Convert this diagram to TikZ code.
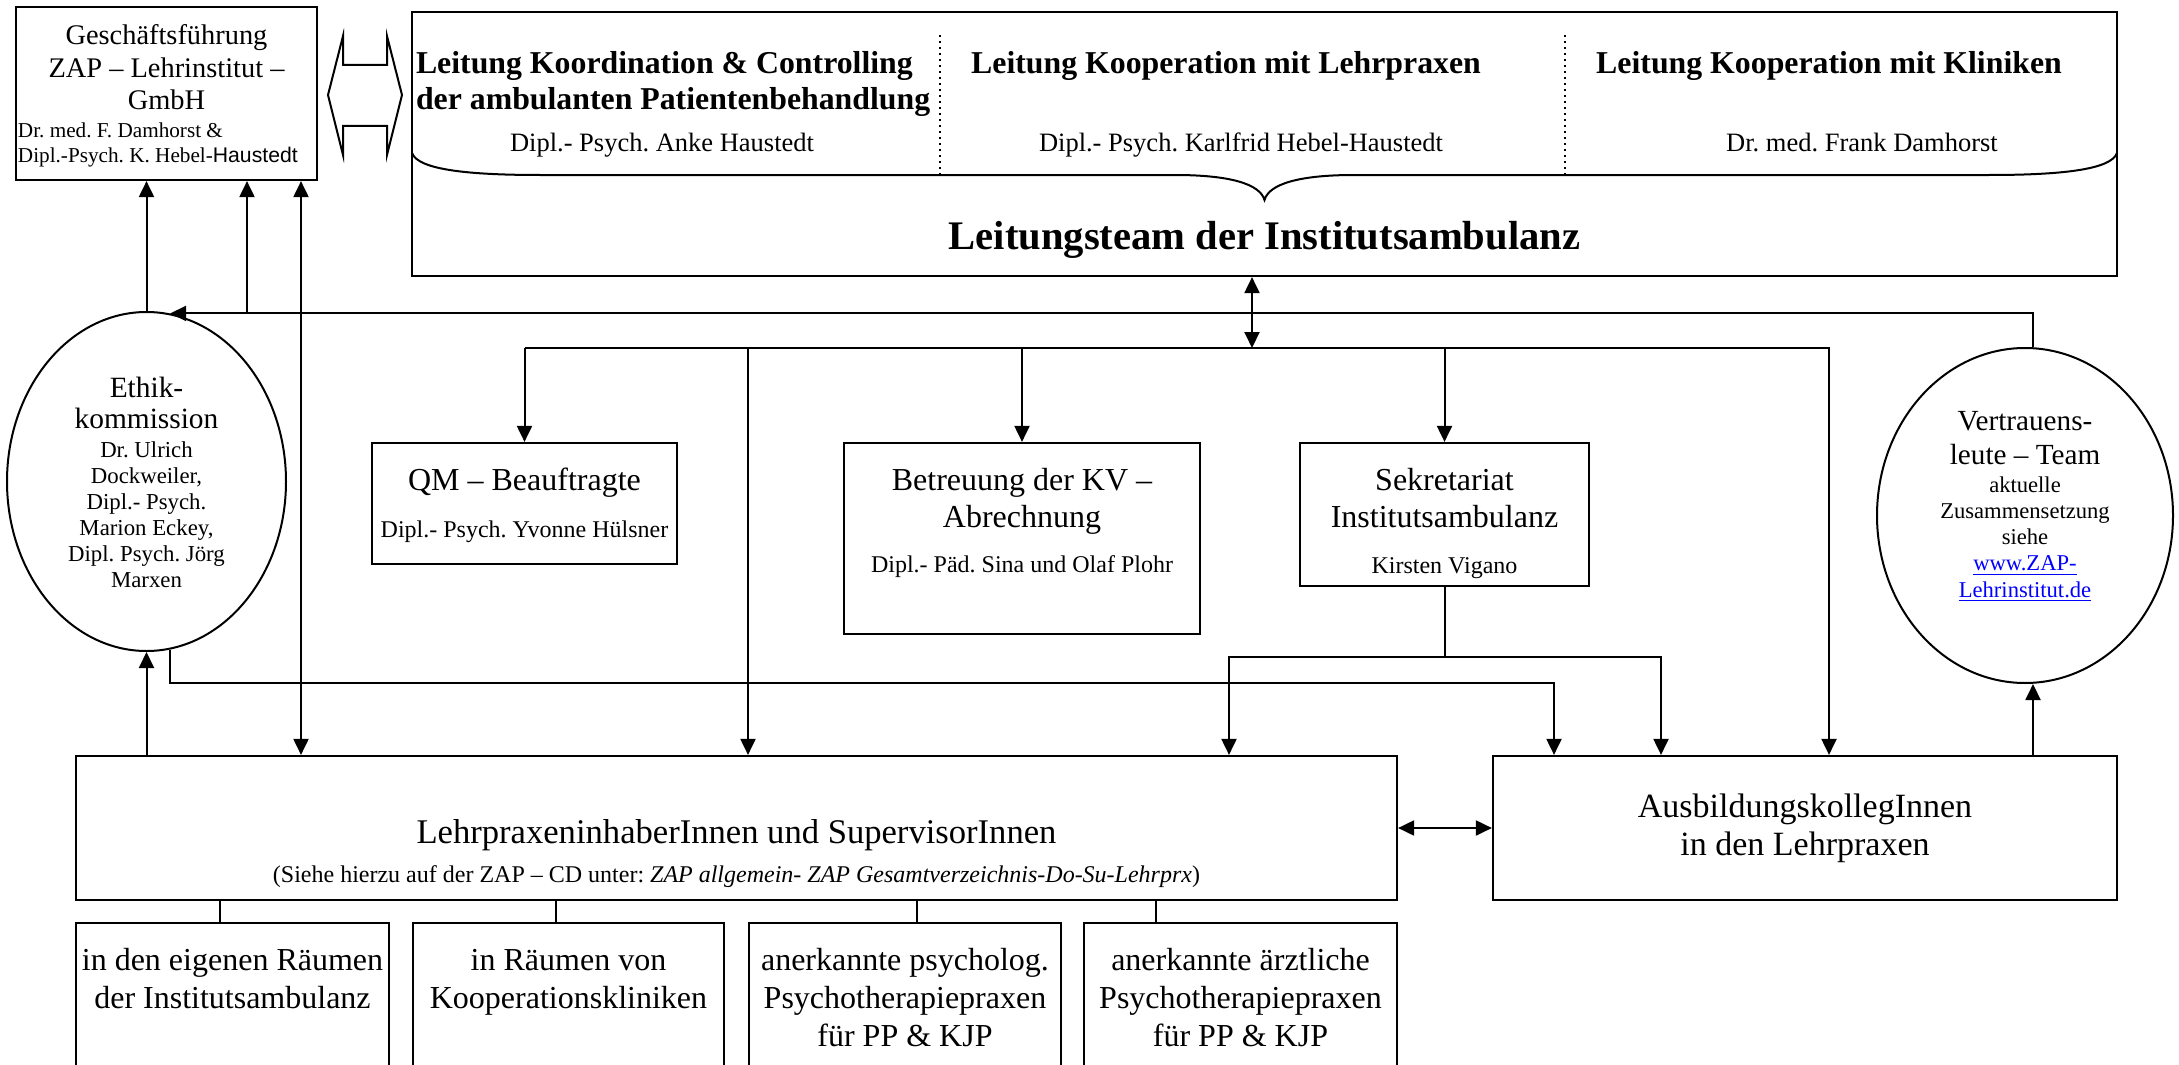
\documentclass[tikz,border=0pt]{standalone}
\usepackage{fontspec}
\setmainfont{Liberation Serif}
\newfontfamily\arialfont{Liberation Sans}
\usetikzlibrary{arrows.meta,shapes.geometric,positioning,calc}
\frenchspacing

\tikzset{every picture/.style={line width=1pt}}
\tikzset{
  unitbox/.style={draw, line width=1.1pt, rectangle, inner sep=0pt},
  bubble/.style={draw, line width=1pt, ellipse, inner sep=0pt},
  orgtext/.style={inner sep=0pt, align=center, anchor=base},
  conn/.style={line width=1pt, -{Triangle[length=8pt,width=7.5pt]}},
  twoway/.style={line width=1pt, {Triangle[length=8pt,width=7.5pt]}-{Triangle[length=8pt,width=7.5pt]}},
}
\newcommand{\orgsize}[2]{\fontsize{#1}{#2}\selectfont}

\begin{document}
\begin{tikzpicture}[x=0.5pt,y=0.5pt,yscale=-1,xscale=1]
\useasboundingbox (0,0) rectangle (2179,1065);

%Shape: Rectangle [Geschaeftsfuehrung]
\node[unitbox, minimum width=150.5pt, minimum height=86.5pt] (gf) at (166.5,93.5) {};
% Text Node (base = last line)
\node[orgtext, font=\orgsize{14.2}{16.25}] (gftitle) at (166.5,110) {Geschäftsführung\\ZAP – Lehrinstitut –\\GmbH};
% Text Node
\node[orgtext, anchor=base west, align=left, font=\orgsize{10.6}{12.4}] (gfnames) at (17,162.5) {Dr. med. F. Damhorst \&\\Dipl.-Psych. K. Hebel-{\arialfont Haustedt}};

%Shape: Left Right Arrow
\draw (328,95) -- (343,36) -- (343,65) -- (387,65) -- (387,36) -- (402,95) -- (387,155) -- (387,126) -- (343,126) -- (343,155) -- cycle ;

%Shape: Rectangle [Leitungsteam]
\node[unitbox, minimum width=852.5pt, minimum height=132pt] (lt) at (1264.5,144) {};
%Straight Lines
\draw [dotted] (940,35) -- (940,178) ;
%Straight Lines
\draw [dotted] (1565,35) -- (1565,178) ;
%Curve Lines [brace]
\draw (412,153) .. controls (418,170) and (470,175) .. (540,175) -- (1175,175) .. controls (1230,175) and (1260,184) .. (1264.5,200) .. controls (1269,184) and (1299,175) .. (1354,175) -- (1989,175) .. controls (2059,175) and (2111,170) .. (2117,153) ;

% Text Node
\node[orgtext, anchor=base west, align=left, font=\orgsize{15.9}{18}\bfseries] (lead1) at (415,110) {Leitung Koordination \& Controlling\\der ambulanten Patientenbehandlung};
% Text Node
\node[orgtext, font=\orgsize{13.25}{16}] (lead1name) at (662,152) {Dipl.- Psych. Anke Haustedt};
% Text Node
\node[orgtext, font=\orgsize{15.9}{18}\bfseries] (lead2) at (1226,74) {Leitung Kooperation mit Lehrpraxen};
% Text Node
\node[orgtext, font=\orgsize{13.25}{16}] (lead2name) at (1241,152) {Dipl.- Psych. Karlfrid Hebel-Haustedt};
% Text Node
\node[orgtext, font=\orgsize{15.9}{18}\bfseries] (lead3) at (1829,74) {Leitung Kooperation mit Kliniken};
% Text Node
\node[orgtext, font=\orgsize{13.25}{16}] (lead3name) at (1862,152) {Dr. med. Frank Damhorst};
% Text Node
\node[orgtext, font=\orgsize{20.3}{24}\bfseries] (ltitle) at (1264.5,249) {Leitungsteam der Institutsambulanz};

%Shape: Ellipse [Ethikkommission]
\node[bubble, minimum width=139.5pt, minimum height=169.5pt] (ethik) at (146.5,481.5) {};
% Text Node
\node[orgtext, font=\orgsize{14.7}{15.5}] (ethiktitle) at (146.5,428) {Ethik-\\kommission};
% Text Node
\node[orgtext, font=\orgsize{11.4}{13}] (ethiknames) at (146.5,587) {Dr. Ulrich\\Dockweiler,\\Dipl.- Psych.\\Marion Eckey,\\Dipl. Psych. Jörg\\Marxen};

%Shape: Ellipse [Vertrauensleute]
\node[bubble, minimum width=148pt, minimum height=167.5pt] (vt) at (2025,515.5) {};
% Text Node
\node[orgtext, font=\orgsize{14.6}{17}] (vttitle) at (2025,464) {Vertrauens-\\leute – Team};
% Text Node
\node[orgtext, font=\orgsize{11.3}{13.1}] (vtnote) at (2025,597) {aktuelle\\Zusammensetzung\\siehe\\\textcolor{blue}{\underline{www.ZAP-}}\\\textcolor{blue}{\underline{Lehrinstitut.de}}};

%Shape: Rectangle [QM]
\node[unitbox, minimum width=152.5pt, minimum height=60.5pt] (qm) at (524.5,503.5) {};
% Text Node
\node[orgtext, font=\orgsize{16}{18.5}] (qmtitle) at (524.5,490) {QM – Beauftragte};
% Text Node
\node[orgtext, font=\orgsize{12}{14}] (qmname) at (524.5,537) {Dipl.- Psych. Yvonne Hülsner};

%Shape: Rectangle [KV]
\node[unitbox, minimum width=178pt, minimum height=95.5pt] (kv) at (1022,538.5) {};
% Text Node
\node[orgtext, font=\orgsize{16}{18.5}] (kvtitle) at (1022,527) {Betreuung der KV –\\Abrechnung};
% Text Node
\node[orgtext, font=\orgsize{12}{14}] (kvname) at (1022,572) {Dipl.- Päd. Sina und Olaf Plohr};

%Shape: Rectangle [Sekretariat]
\node[unitbox, minimum width=144.5pt, minimum height=71.5pt] (sek) at (1444.5,514.5) {};
% Text Node
\node[orgtext, font=\orgsize{16}{18.5}] (sektitle) at (1444.5,527) {Sekretariat\\Institutsambulanz};
% Text Node
\node[orgtext, font=\orgsize{12}{14}] (sekname) at (1444.5,573) {Kirsten Vigano};

%Shape: Rectangle [Lehrpraxen]
\node[unitbox, minimum width=660.5pt, minimum height=72pt] (lp) at (736.5,828) {};
% Text Node
\node[orgtext, font=\orgsize{17.3}{20}] (lptitle) at (736.5,843) {LehrpraxeninhaberInnen und SupervisorInnen};
% Text Node
\node[orgtext, font=\orgsize{12}{14}] (lpnote) at (736.5,882) {(Siehe hierzu auf der ZAP – CD unter: \textit{ZAP allgemein- ZAP Gesamtverzeichnis-Do-Su-Lehrprx})};

%Shape: Rectangle [Ausbildung]
\node[unitbox, minimum width=312pt, minimum height=72pt] (ab) at (1805,828) {};
% Text Node
\node[orgtext, font=\orgsize{17}{19}] (abtitle) at (1805,855) {AusbildungskollegInnen\\in den Lehrpraxen};

%Shape: Rectangle [Raeume, cut by the page]
\begin{scope}
\clip (0,0) rectangle (2179,1065);
\node[unitbox, minimum width=156.5pt, minimum height=83.5pt] (r1) at (232.5,1006.5) {};
\node[unitbox, minimum width=155.5pt, minimum height=83.5pt] (r2) at (568.5,1006.5) {};
\node[unitbox, minimum width=156pt, minimum height=83.5pt] (r3) at (905,1006.5) {};
\node[unitbox, minimum width=156.5pt, minimum height=83.5pt] (r4) at (1240.5,1006.5) {};
\end{scope}
% Text Node
\node[orgtext, font=\orgsize{16}{19}] (r1text) at (232.5,1008) {in den eigenen Räumen\\der Institutsambulanz};
% Text Node
\node[orgtext, font=\orgsize{16}{19}] (r2text) at (568.5,1008) {in Räumen von\\Kooperationskliniken};
% Text Node
\node[orgtext, font=\orgsize{16}{19}] (r3text) at (905,1046) {anerkannte psycholog.\\Psychotherapiepraxen\\für PP \& KJP};
% Text Node
\node[orgtext, font=\orgsize{16}{19}] (r4text) at (1240.5,1046) {anerkannte ärztliche\\Psychotherapiepraxen\\für PP \& KJP};

% tap points
\coordinate (tap1) at (247,0);
\coordinate (gfdown) at (301,0);
\coordinate (ltdown) at (1252,0);
\coordinate (vtline) at (2033,0);
\coordinate (bus2) at (0,348);
\coordinate (lptap) at (748,0);
\coordinate (abtap) at (1829,0);
\coordinate (sekbus) at (0,657);
\coordinate (lpsek) at (1229,0);
\coordinate (absek) at (1661,0);
\coordinate (ethbus) at (0,683);
\coordinate (abeth) at (1554,0);

%Connectors
\draw [conn] (vtline |- vt.north) |- (ethik.82) ;
\draw [conn] (ethik.north) -- (ethik.north |- gf.south) ;
\draw [conn] (tap1 |- ethik.82) -- (tap1 |- gf.south) ;
\draw [twoway] (gfdown |- gf.south) -- (gfdown |- lp.north) ;
\draw [twoway] (ltdown |- lt.south) -- (ltdown |- bus2) ;
\draw [conn] (qm.north |- bus2) -- (qm.north) ;
\draw [conn] (qm.north |- bus2) -| (abtap |- ab.north) ;
\draw [conn] (kv.north |- bus2) -- (kv.north) ;
\draw [conn] (sek.north |- bus2) -- (sek.north) ;
\draw [conn] (lptap |- bus2) -- (lptap |- lp.north) ;
\draw (sek.south) -- (sek.south |- sekbus) ;
\draw [conn] (sek.south |- sekbus) -| (lpsek |- lp.north) ;
\draw [conn] (sek.south |- sekbus) -| (absek |- ab.north) ;
\draw [conn] (ethik.-82) -- (ethik.-82 |- ethbus) -| (abeth |- ab.north) ;
\draw [conn] (ethik.south |- lp.north) -- (ethik.south) ;
\draw [conn] (vtline |- ab.north) -- (vtline |- vt.south) ;
\draw [twoway] (lp.east) -- (ab.west) ;

%Straight Lines
\draw (220,0 |- lp.south) -- (220,0 |- r1.north) ;
\draw (556,0 |- lp.south) -- (556,0 |- r2.north) ;
\draw (917,0 |- lp.south) -- (917,0 |- r3.north) ;
\draw (1156,0 |- lp.south) -- (1156,0 |- r4.north) ;

\end{tikzpicture}
\end{document}
